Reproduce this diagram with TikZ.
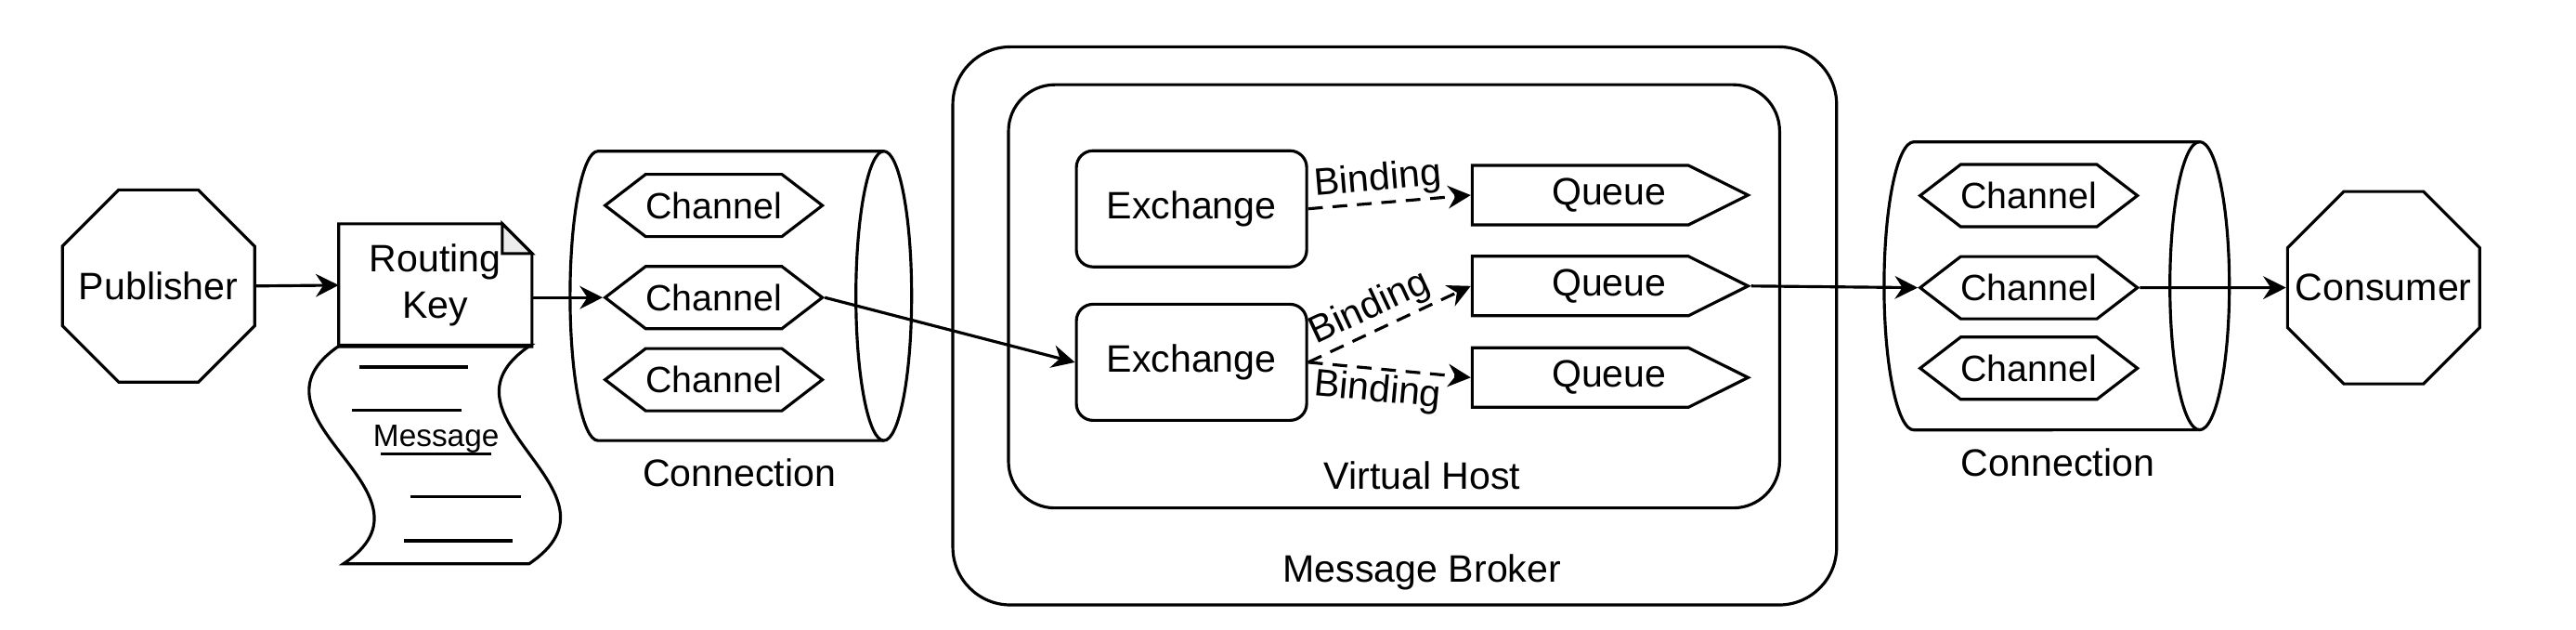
\documentclass[tikz,border=0pt]{standalone}
\usepackage{fontspec}
\setmainfont{Liberation Sans}
\usetikzlibrary{calc,arrows.meta,shapes.geometric,shapes.symbols}

\begin{document}
\begin{tikzpicture}[>={Stealth[length=7pt,width=7pt,inset=2.3pt]},line width=0.9pt,
  every node/.style={font=\fontsize{11.7}{14}\selectfont},
  octa/.style={draw,regular polygon,regular polygon sides=8,minimum size=2.24cm,inner sep=0pt},
  chan/.style={draw,signal,signal to=east and west,signal pointer angle=75,
    minimum width=2.32cm,minimum height=0.67cm,inner sep=0pt,font=\fontsize{11.2}{13}\selectfont},
  queue/.style={draw,signal,signal to=east,signal pointer angle=53,
    minimum width=2.97cm,minimum height=0.64cm,inner sep=0pt},
  exch/.style={draw,rounded corners=0.18cm,minimum width=2.48cm,minimum height=1.25cm},
  bind/.style={->,dash pattern=on 4.5pt off 3pt},
  lbl/.style={inner sep=1pt,sloped,pos=0.44}]
  \useasboundingbox (0,0) rectangle (27.74,-6.775);

  % publisher side
  \node[octa] (pub) at (1.707,-3.078) {\makebox[0pt]{Publisher}};
  \node[minimum width=2.05cm,minimum height=1.29cm,align=center,inner sep=0pt] (rk) at (4.688,-3.069) {Routing\\Key};
  \draw (rk.north west) -- ($(rk.north east)+(-0.32,0)$) -- ($(rk.north east)+(0,-0.32)$)
    -- (rk.south east) -- (rk.south west) -- cycle;
  \draw[fill=gray!15] ($(rk.north east)+(-0.32,0)$) -- ($(rk.north east)+(-0.32,-0.32)$)
    -- ($(rk.north east)+(0,-0.32)$) -- cycle;
  \draw (3.662,-3.715) -- (5.714,-3.715) .. controls (4.544,-4.495) and (6.866,-5.288) .. (5.696,-6.068)
    -- (3.697,-6.068) .. controls (4.867,-5.288) and (2.492,-4.495) .. (3.662,-3.715) -- cycle;
  \foreach \xa/\xb/\yy in {3.874/5.042/-3.950,3.786/4.971/-4.414,4.104/5.289/-4.882,4.423/5.608/-5.349,4.352/5.519/-5.820}
    \draw (\xa,\yy) -- (\xb,\yy);
  \node[font=\fontsize{9.5}{11}\selectfont,anchor=base] (msg) at (4.697,-4.803) {Message};

  % connections
  \draw (9.517,-1.627) -- (6.439,-1.627) arc[start angle=90,end angle=270,x radius=0.3,y radius=1.557] -- (9.517,-4.741);
  \draw (9.517,-3.184) ellipse[x radius=0.3,y radius=1.557];
  \node (lconn) at (7.961,-5.084) {Connection};
  \foreach \i/\yy in {1/-2.211,2/-3.202,3/-4.086}
    \node[chan] (lch\i) at (7.686,\yy) {Channel};

  \draw (23.687,-1.527) -- (20.609,-1.527) arc[start angle=90,end angle=270,x radius=0.32,y radius=1.55] -- (23.687,-4.626);
  \draw (23.687,-3.076) ellipse[x radius=0.32,y radius=1.55];
  \node (rconn) at (22.159,-4.974) {Connection};
  \foreach \i/\yy in {1/-2.105,2/-3.096,3/-3.963}
    \node[chan] (rch\i) at (21.847,\yy) {Channel};

  % broker
  \node[draw,rounded corners=0.62cm,minimum width=9.517cm,minimum height=6.006cm] (broker) at (15.019,-3.507) {};
  \node[draw,rounded corners=0.5cm,minimum width=8.304cm,minimum height=4.555cm] (vhost) at (15.012,-3.189) {};
  \node (vhlbl) at (15.314,-5.119) {Virtual Host};
  \node (brlbl) at (15.314,-6.156) {Message Broker};
  \node[exch] (ex1) at (12.831,-2.247) {Exchange};
  \node[exch] (ex2) at (12.831,-3.899) {Exchange};
  \foreach \i/\yy in {1/-2.100,2/-3.078,3/-4.063}
    \node[queue] (q\i) at (17.018,\yy) {\hspace*{0.62cm}Queue};

  \node[octa] (con) at (25.668,-3.096) {\makebox[0pt]{Consumer}};

  % arrows
  \draw[->] (pub.east) -- (rk.west);
  \draw[->] (rk.east |- lch2.west) -- (lch2.west);
  \draw[->] (lch2.east) -- (ex2.west);
  \draw[bind] (ex1.east) -- node[lbl,above]{Binding} (q1.west);
  \draw[bind] (ex2.east) -- node[lbl,above]{Binding} (q2.west);
  \draw[bind] (ex2.east) -- node[lbl,below]{Binding} (q3.west);
  \draw[->] (q2.east) -- (rch2.west);
  \draw[->] (rch2.east) -- (con.west);
\end{tikzpicture}
\end{document}
